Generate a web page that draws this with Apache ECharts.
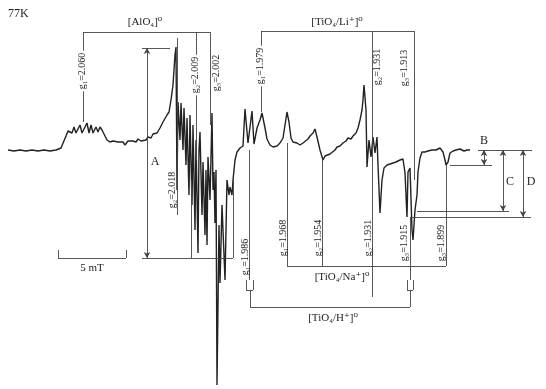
<!DOCTYPE html>
<html>
<head>
<meta charset="utf-8">
<script src="https://cdn.jsdelivr.net/npm/echarts/dist/echarts.min.js"></script>
<style>
  html, body { margin: 0; padding: 0; background: #fff; }
  #chart { width: 546px; height: 389px; }
</style>
</head>
<body>
<div id="chart"></div>
<script>
// EPR trace at 77K, field in arbitrary channel units, signal in arbitrary units
var field = [
  8, 14, 20, 26, 32, 38, 44, 50, 56, 61,
  63, 66, 68, 70, 72, 74, 76, 78, 80, 82,
  85, 87, 89, 91, 93, 96, 98, 100, 102, 104,
  107, 110, 113, 115, 118, 120, 123, 125, 128, 130,
  133, 136, 138, 141, 143, 146, 148, 151, 153, 155,
  157, 159, 160, 162, 163, 165, 167, 169, 171, 173,
  174, 175, 176, 177, 178, 180, 181, 183, 184, 186,
  187, 189, 190, 192, 193, 195, 196, 198, 199, 200,
  202, 203, 205, 206, 207, 208, 210, 212, 213, 214,
  215, 216, 217, 219, 220, 222, 225, 227, 229, 230,
  232, 233, 235, 237, 240, 243, 245, 248, 252, 254,
  257, 260, 262, 265, 267, 270, 273, 277, 280, 283,
  285, 287, 289, 291, 293, 297, 300, 303, 305, 308,
  310, 313, 315, 317, 320, 323, 325, 327, 330, 332,
  335, 337, 340, 343, 346, 348, 351, 353, 356, 358,
  360, 362, 363, 364, 366, 367, 369, 371, 373, 375,
  377, 378, 380, 382, 384, 387, 390, 393, 396, 400,
  403, 405, 407, 408, 410, 412, 413, 415, 417, 418,
  420, 422, 425, 428, 432, 436, 440, 443, 445, 446,
  448, 450, 453, 456, 460, 464, 467, 470
];
var signal = [
  0, -1, 0, -1, 0, -1, 0, -1, 0, 2,
  4, 14, 19, 20, 17, 23, 17, 21, 25, 17,
  23, 27, 17, 25, 17, 23, 18, 23, 20, 19,
  10, 8, 9, 7, 8, 6, 8, 5, 9, 7,
  9, 8, 11, 9, 11, 10, 13, 12, 16, 14,
  17, 19, 22, 20, 28, 26, 35, 38, 50, 65,
  80, 95, 103, -40, 48, 10, 47, 0, 42, -15,
  32, -45, 35, -55, 25, -80, 10, -103, 0, 18,
  -65, -12, -85, -20, -95, -7, -50, 37, -40, -22,
  -73, -20, -235, -75, -133, -55, -130, -30, -45, -37,
  -45, -30, -10, -2, 2, 4, 41, 7, 39, 6,
  22, 30, 37, 22, 11, 5, 3, 4, 7, 12,
  25, 38, 28, 12, 8, 7, 5, 7, 9, 11,
  14, 17, 21, 13, 0, -10, -6, -5, -4, -2,
  0, 3, 4, 7, 9, 12, 11, 14, 17, 22,
  30, 40, 50, 65, 40, -17, 10, -7, 13, -3,
  13, -15, -63, -30, -18, -15, -14, -13, -12, -10,
  -9, -23, -67, -22, -18, -80, -90, -60, -45, -22,
  -8, -2, -2, -1, 0, 0, 2, -2, -10, -15,
  -12, -3, -1, 0, 1, -1, 0, 0
];

// g-value labels
var gLabels = ['g₁=2.060', 'g₂=2.009', 'g₃=2.002', 'g₂=2.018',
  'g₁=1.979', 'g₂=1.931', 'g₃=1.913',
  'g₁=1.986', 'g₁=1.968', 'g₂=1.954', 'g₂=1.931', 'g₃=1.915', 'g₃=1.899'];
var groupLabels = ['[AlO₄]⁰', '[TiO₄/Li⁺]⁰', '[TiO₄/Na⁺]⁰', '[TiO₄/H⁺]⁰'];

// annotation geometry (in chart coordinates)
var gPos = [[82, 79, 1], [195, 75, 1], [216, 77, 0], [172, -40, 0],
  [260, 84, 1], [377, 83, 0], [404, 82, 0],
  [245, -107, 0], [283, -88, 0], [318, -88, 0], [368, -88, 0], [404, -93, 0], [441, -93, 0]];
var groupPos = [[145, 128], [337, 128], [342, -127], [333, -168]];

var lines = [
  // [AlO4]0 bracket
  [83, 118, 210, 118], [83, 118, 83, 28], [196, 118, 196, -10], [210, 118, 210, 25],
  [177, 112, 177, -65],
  // A
  [142, 102, 170, 102], [142, -108, 233, -108], [191, -30, 191, -108], [233, -30, 233, -108],
  // [TiO4/Li+]0 bracket
  [261, 119, 414, 119], [261, 119, 261, 38], [372, 119, 372, -147], [414, 119, 414, -30],
  // [TiO4/Na+]0 bracket
  [287, -116, 446, -116], [287, -116, 287, 7], [322, -116, 322, -10], [446, -116, 446, -15],
  // [TiO4/H+]0 bracket with hops
  [249, 0, 249, -130], [246, -130, 246, -140], [246, -140, 253, -140], [253, -140, 253, -130],
  [250, -140, 250, -157], [250, -157, 410, -157],
  [410, -67, 410, -130], [407, -130, 407, -140], [407, -140, 413, -140], [413, -140, 413, -130],
  [410, -140, 410, -157],
  // B C D
  [478, 0, 532, 0], [450, -15, 492, -15], [417, -61, 509, -61], [411, -67, 531, -67],
  // 5 mT scale bar
  [58, -108, 126, -108], [58, -100, 58, -108], [126, -100, 126, -108]
];
var arrows = [[147, 102, 147, -108], [484, 0, 484, -15], [503, 0, 503, -61], [523, 0, 523, -67]];
var letters = [['A', 155, -12], ['B', 484, 9], ['C', 510, -32], ['D', 531, -32], ['5 mT', 92, -118]];

var chart = echarts.init(document.getElementById('chart'));
var FONT = '"Liberation Serif", "DejaVu Serif", serif';

var trace = field.map(function (x, i) { return [x, signal[i]]; });

var mlData = lines.map(function (s) {
  return [{ coord: [s[0], s[1]], symbol: 'none' }, { coord: [s[2], s[3]], symbol: 'none' }];
});
arrows.forEach(function (s) {
  mlData.push([{ coord: [s[0], s[1]], symbol: 'arrow' }, { coord: [s[2], s[3]], symbol: 'arrow' }]);
});

chart.setOption({
  animation: false,
  backgroundColor: '#fff',
  grid: { left: 0, right: 0, top: 0, bottom: 0 },
  xAxis: { type: 'value', min: 0, max: 546, show: false },
  yAxis: { type: 'value', min: -239, max: 150, show: false },
  series: [{
    type: 'line',
    data: trace,
    symbol: 'none',
    silent: true,
    lineStyle: { color: '#222', width: 1.4 },
    markLine: {
      silent: true,
      symbolSize: [5, 6],
      label: { show: false },
      lineStyle: { color: '#444', width: 0.9, type: 'solid' },
      emphasis: { disabled: true },
      data: mlData
    }
  }]
});

function px(x, y) { return chart.convertToPixel({ gridIndex: 0 }, [x, y]); }

var g = [];
var p0 = px(8, 136);
g.push({ type: 'text', x: p0[0], y: p0[1], z: 100,
  style: { text: '77K', font: '12px ' + FONT, fill: '#222', align: 'left', verticalAlign: 'middle' } });
groupLabels.forEach(function (t, i) {
  var p = px(groupPos[i][0], groupPos[i][1]);
  g.push({ type: 'text', x: p[0], y: p[1], z: 100,
    style: { text: t, font: '11px ' + FONT, fill: '#222', align: 'center', verticalAlign: 'middle' } });
});
gLabels.forEach(function (t, i) {
  var p = px(gPos[i][0], gPos[i][1]);
  g.push({ type: 'text', x: p[0], y: p[1], z: 100, rotation: Math.PI / 2,
    style: { text: t, font: '10px ' + FONT, fill: '#222', align: 'center', verticalAlign: 'middle',
      backgroundColor: gPos[i][2] ? '#fff' : null, padding: gPos[i][2] ? [0, 2] : 0 } });
});
letters.forEach(function (l) {
  var p = px(l[1], l[2]);
  g.push({ type: 'text', x: p[0], y: p[1], z: 100,
    style: { text: l[0], font: (l[0].length > 1 ? '11px ' : '12px ') + FONT, fill: '#222',
      align: 'center', verticalAlign: 'middle' } });
});
chart.setOption({ graphic: g });
</script>
</body>
</html>
